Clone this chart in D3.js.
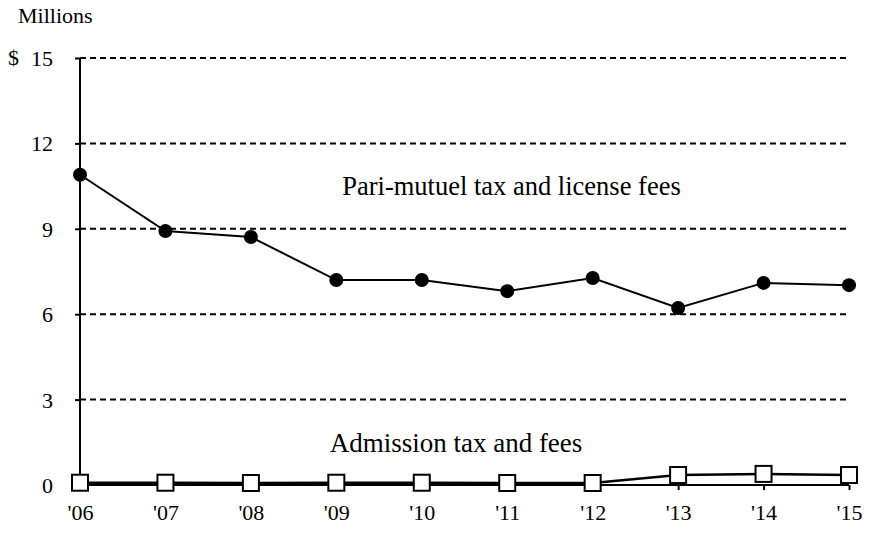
<!DOCTYPE html>
<html>
<head>
<meta charset="utf-8">
<script src="https://cdn.jsdelivr.net/npm/d3@7"></script>
<style>
  html, body { margin: 0; padding: 0; background: #fff; overflow: hidden; }
  svg { display: block; }
  svg text { font-family: "Liberation Serif", "Times New Roman", serif; fill: #000; }
</style>
</head>
<body>
<div id="chart"></div>
<script>
var years = ["'06", "'07", "'08", "'09", "'10", "'11", "'12", "'13", "'14", "'15"];
var pariMutuel = [10.9, 8.92, 8.71, 7.2, 7.2, 6.81, 7.27, 6.22, 7.1, 7.02];
var admission = [0.08, 0.08, 0.07, 0.08, 0.08, 0.07, 0.07, 0.35, 0.39, 0.35];
var yTicks = [0, 3, 6, 9, 12, 15];

var width = 869;
var height = 535;
var margin = { top: 58, right: 19, bottom: 50, left: 80 };
var innerWidth = width - margin.left - margin.right;
var innerHeight = height - margin.top - margin.bottom;

var svg = d3.select("#chart").append("svg")
  .attr("width", width)
  .attr("height", height);

var g = svg.append("g")
  .attr("transform", "translate(" + margin.left + "," + margin.top + ")");

var xScale = d3.scalePoint().domain(years).range([0, innerWidth - 1]);
var yScale = d3.scaleLinear().domain([0, 15]).range([innerHeight, 0]);

// dashed gridlines
g.selectAll(".grid")
  .data(yTicks.filter(function(d) { return d > 0; }))
  .enter().append("line")
  .attr("class", "grid")
  .attr("x1", 0)
  .attr("x2", innerWidth)
  .attr("y1", function(d) { return yScale(d); })
  .attr("y2", function(d) { return yScale(d); })
  .attr("stroke", "#000")
  .attr("stroke-width", 2)
  .attr("stroke-dasharray", "6,4");

// y axis
var yAxis = g.append("g")
  .call(d3.axisLeft(yScale).tickValues(yTicks).tickSize(5).tickPadding(22)
    .tickFormat(function(d) { return d; }));
yAxis.attr("font-family", null).attr("font-size", null);
yAxis.select(".domain").attr("stroke-width", 2).attr("d", "M0," + innerHeight + "V0");
yAxis.selectAll(".tick line").attr("stroke-width", 2);
yAxis.selectAll("text").style("font-size", "22px").attr("dy", "0.34em");

// x axis
var xAxis = g.append("g")
  .attr("transform", "translate(0," + innerHeight + ")")
  .call(d3.axisBottom(xScale).tickSize(5).tickPadding(14));
xAxis.attr("font-family", null).attr("font-size", null);
xAxis.select(".domain").attr("stroke-width", 2).attr("d", "M0,0H" + (innerWidth - 1));
xAxis.selectAll(".tick line").attr("stroke-width", 2);
xAxis.selectAll("text").style("font-size", "22px");

// "$" and "Millions"
svg.append("text")
  .attr("x", 8)
  .attr("y", yScale(15) + margin.top)
  .attr("dy", "0.34em")
  .style("font-size", "22px")
  .text("$");
svg.append("text")
  .attr("x", 18)
  .attr("y", 23)
  .style("font-size", "22px")
  .text("Millions");

var line = d3.line()
  .x(function(d, i) { return xScale(years[i]); })
  .y(function(d) { return yScale(d); });

// admission series
g.append("path")
  .datum(admission)
  .attr("fill", "none")
  .attr("stroke", "#000")
  .attr("stroke-width", 2.5)
  .attr("d", line);

g.selectAll(".sq")
  .data(admission)
  .enter().append("rect")
  .attr("class", "sq")
  .attr("x", function(d, i) { return xScale(years[i]) - 8; })
  .attr("y", function(d) { return yScale(d) - 8; })
  .attr("width", 16)
  .attr("height", 16)
  .attr("fill", "#fff")
  .attr("stroke", "#000")
  .attr("stroke-width", 2);

// pari-mutuel series
g.append("path")
  .datum(pariMutuel)
  .attr("fill", "none")
  .attr("stroke", "#000")
  .attr("stroke-width", 2)
  .attr("d", line);

g.selectAll(".dot")
  .data(pariMutuel)
  .enter().append("circle")
  .attr("class", "dot")
  .attr("cx", function(d, i) { return xScale(years[i]); })
  .attr("cy", function(d) { return yScale(d); })
  .attr("r", 7)
  .attr("fill", "#000");

// labels
svg.append("text")
  .attr("x", 511.5)
  .attr("y", 195)
  .attr("text-anchor", "middle")
  .style("font-size", "26.5px")
  .text("Pari-mutuel tax and license fees");

svg.append("text")
  .attr("x", 456)
  .attr("y", 452)
  .attr("text-anchor", "middle")
  .style("font-size", "27px")
  .text("Admission tax and fees");
</script>
</body>
</html>
